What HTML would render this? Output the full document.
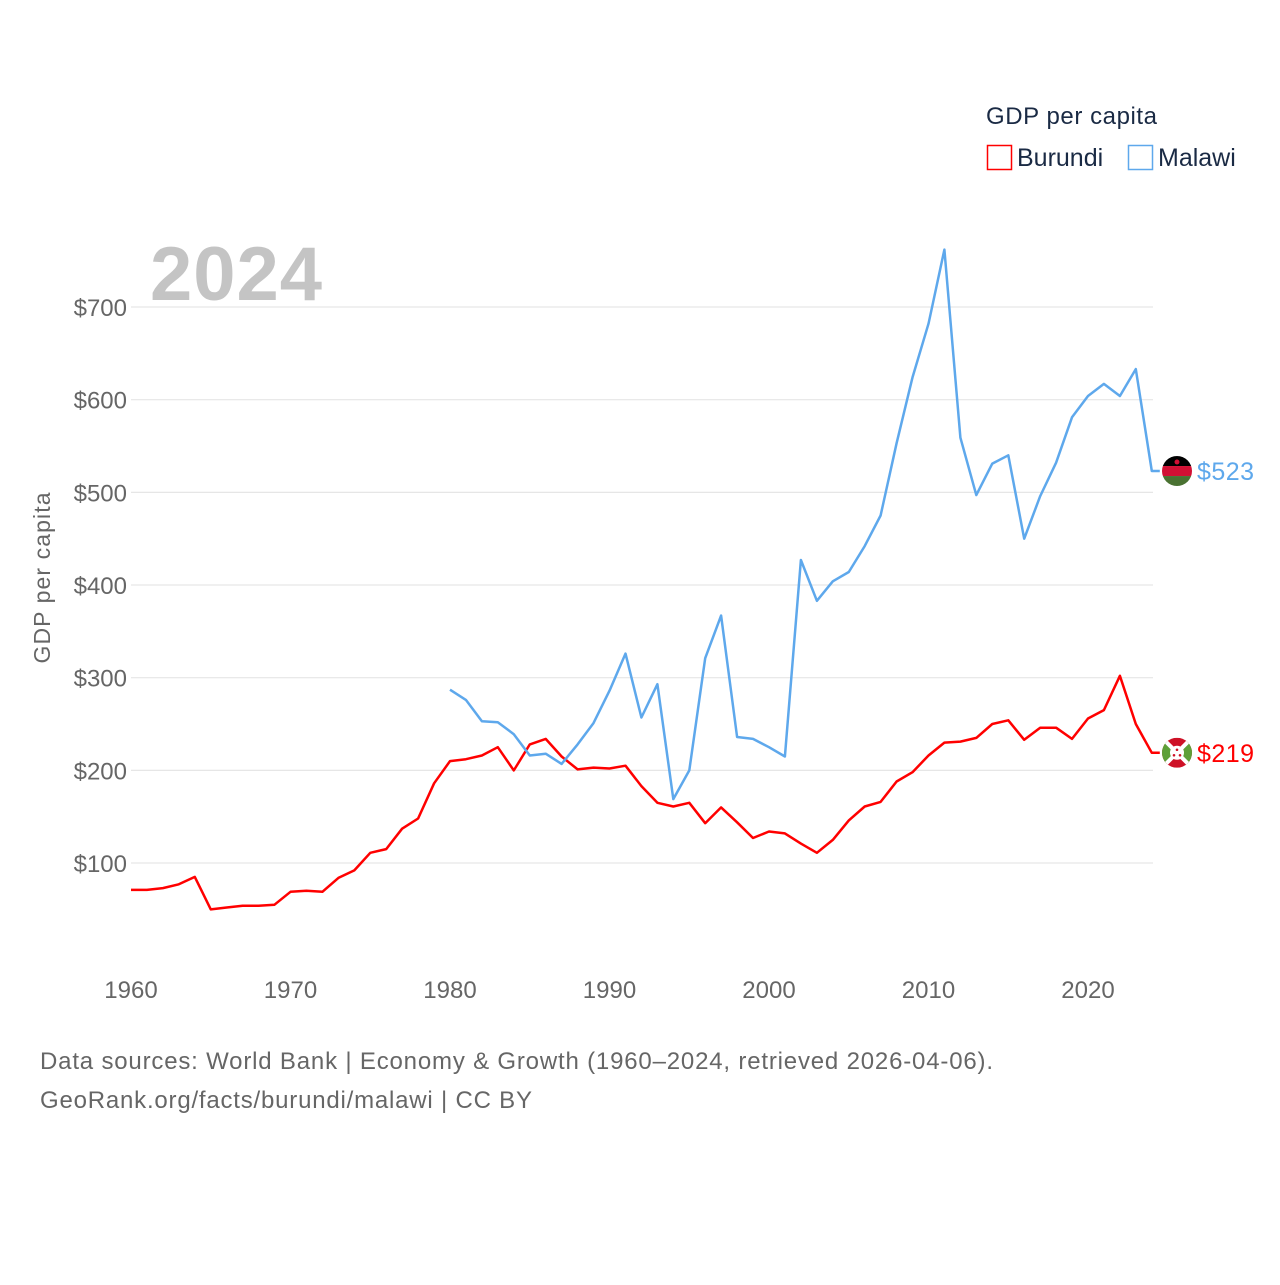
<!DOCTYPE html>
<html><head><meta charset="utf-8"><style>
html,body{margin:0;padding:0;background:#fff;}
svg text{font-family:"Liberation Sans",sans-serif;}
</style></head><body>
<svg id="chart" width="1280" height="1280" viewBox="0 0 1280 1280" xmlns="http://www.w3.org/2000/svg">
<g id="grid"></g>
<text x="150" y="300" font-size="76" font-weight="bold" fill="#c4c4c4" textLength="172">2024</text>
<g id="yticks"></g>
<g id="xticks"></g>
<text transform="translate(50,578) rotate(-90)" text-anchor="middle" font-size="23" fill="#666" textLength="171">GDP per capita</text>
<g id="series"></g>
<g>
<text x="986" y="124" font-size="24" fill="#1a2a44" textLength="171">GDP per capita</text>
<g><rect x="987.5" y="145.5" width="24" height="24" fill="none" stroke="#ff0000" stroke-width="1.5"/><text x="1017" y="166" font-size="25" fill="#1a2a44">Burundi</text></g>
<g><rect x="1128.5" y="145.5" width="24" height="24" fill="none" stroke="#5ea8ec" stroke-width="1.5"/><text x="1158" y="166" font-size="25" fill="#1a2a44">Malawi</text></g>
</g>
<text x="40" y="1069" font-size="24" fill="#666" textLength="953">Data sources: World Bank | Economy &amp; Growth (1960–2024, retrieved 2026-04-06).</text>
<text x="40" y="1108" font-size="24" fill="#666" textLength="492">GeoRank.org/facts/burundi/malawi | CC BY</text>
</svg>
<script>
const years = [];
for (let y = 1960; y <= 2024; y++) years.push(y);
const burundi = [71,71,73,77,85,50,52,54,54,55,69,70,69,84,92,111,115,137,148,186,210,212,216,225,200,228,234,215,201,203,202,205,183,165,161,165,143,160,144,127,134,132,121,111,125,146,161,166,188,198,216,230,231,235,250,254,233,246,246,234,256,265,302,250,219];
const malawiYears = [];
for (let y = 1980; y <= 2024; y++) malawiYears.push(y);
const malawi = [287,276,253,252,239,216,218,207,228,251,286,326,257,293,169,200,321,367,236,234,225,215,427,383,404,414,442,475,553,624,682,762,559,497,531,540,450,496,532,581,604,617,604,633,523];
const yTickValues = [100,200,300,400,500,600,700];
const yTickLabels = ["$100","$200","$300","$400","$500","$600","$700"];
const xTickValues = [1960,1970,1980,1990,2000,2010,2020];
const xTickLabels = ["1960","1970","1980","1990","2000","2010","2020"];

const NS = "http://www.w3.org/2000/svg";
function xs(yr){ return 131 + (yr - 1960) * 15.95; }
function ys(v){ return 955.7 - v * 0.9267; }
function mk(tag, attrs, parent){ const e = document.createElementNS(NS, tag); for (const k in attrs) e.setAttribute(k, attrs[k]); parent.appendChild(e); return e; }

const grid = document.getElementById('grid');
const yt = document.getElementById('yticks');
yTickValues.forEach((v, i) => {
  const l = mk('line', {x1:131, x2:1153, y1:ys(v), y2:ys(v), stroke:'#e6e6e6', 'stroke-width':1.2}, grid);
  
  
  const t = mk('text', {x:127, y:ys(v)+9, 'text-anchor':'end', 'font-size':24, fill:'#666'}, yt);
  t.textContent = yTickLabels[i];
  
  
});
const xt = document.getElementById('xticks');
xTickValues.forEach((v, i) => {
  const t = mk('text', {x:xs(v), y:998, 'text-anchor':'middle', 'font-size':24, fill:'#666'}, xt);
  t.textContent = xTickLabels[i];
  
  
});

const sg = document.getElementById('series');
function drawLine(xv, yv, color, name){
  let d = xv.map((x, i) => (i ? 'L' : 'M') + xs(x).toFixed(1) + ',' + ys(yv[i]).toFixed(1)).join(' ');
  const last = yv[yv.length-1];
  d += ' L' + (xs(xv[xv.length-1]) + 8).toFixed(1) + ',' + ys(last).toFixed(1);
  const p = mk('path', {d:d, fill:'none', stroke:color, 'stroke-width':2.5, 'stroke-linejoin':'round'}, sg);
  
  
  return ys(last);
}
const by = drawLine(years, burundi, '#ff0000', 'burundi');
const my = drawLine(malawiYears, malawi, '#5ea8ec', 'malawi');

const fm = mk('g', {}, sg);


const cpM = mk('clipPath', {id:'cm'}, fm); mk('circle', {cx:1177, cy:my, r:15}, cpM);
const gm = mk('g', {'clip-path':'url(#cm)'}, fm);
mk('rect', {x:1162, y:my-15, width:30, height:10, fill:'#000'}, gm);
mk('rect', {x:1162, y:my-5, width:30, height:10, fill:'#d21034'}, gm);
mk('rect', {x:1162, y:my+5, width:30, height:10, fill:'#4a7232'}, gm);
mk('circle', {cx:1177, cy:my-9, r:2.5, fill:'#d21034'}, gm);
const lm = mk('text', {x:1197, y:my+9, 'font-size':25, fill:'#5ea8ec', textLength:57}, sg);
lm.textContent = '$' + malawi[malawi.length-1];



const fb = mk('g', {}, sg);


const cpB = mk('clipPath', {id:'cb'}, fb); mk('circle', {cx:1177, cy:by, r:15}, cpB);
const gb = mk('g', {'clip-path':'url(#cb)'}, fb);
mk('rect', {x:1162, y:by-15, width:30, height:30, fill:'#ce1126'}, gb);
mk('polygon', {points:`1162,${by-15} 1177,${by} 1162,${by+15}`, fill:'#5ea038'}, gb);
mk('polygon', {points:`1192,${by-15} 1177,${by} 1192,${by+15}`, fill:'#5ea038'}, gb);
mk('line', {x1:1162, y1:by-15, x2:1192, y2:by+15, stroke:'#fff', 'stroke-width':4}, gb);
mk('line', {x1:1192, y1:by-15, x2:1162, y2:by+15, stroke:'#fff', 'stroke-width':4}, gb);
mk('circle', {cx:1177, cy:by, r:7, fill:'#fff'}, gb);
[[0,-3],[-3,2.5],[3,2.5]].forEach(o => mk('circle', {cx:1177+o[0], cy:by+o[1], r:1.3, fill:'#ce1126'}, gb));
const lb = mk('text', {x:1197, y:by+9, 'font-size':25, fill:'#ff0000', textLength:57}, sg);
lb.textContent = '$' + burundi[burundi.length-1];


</script>
</body></html>
